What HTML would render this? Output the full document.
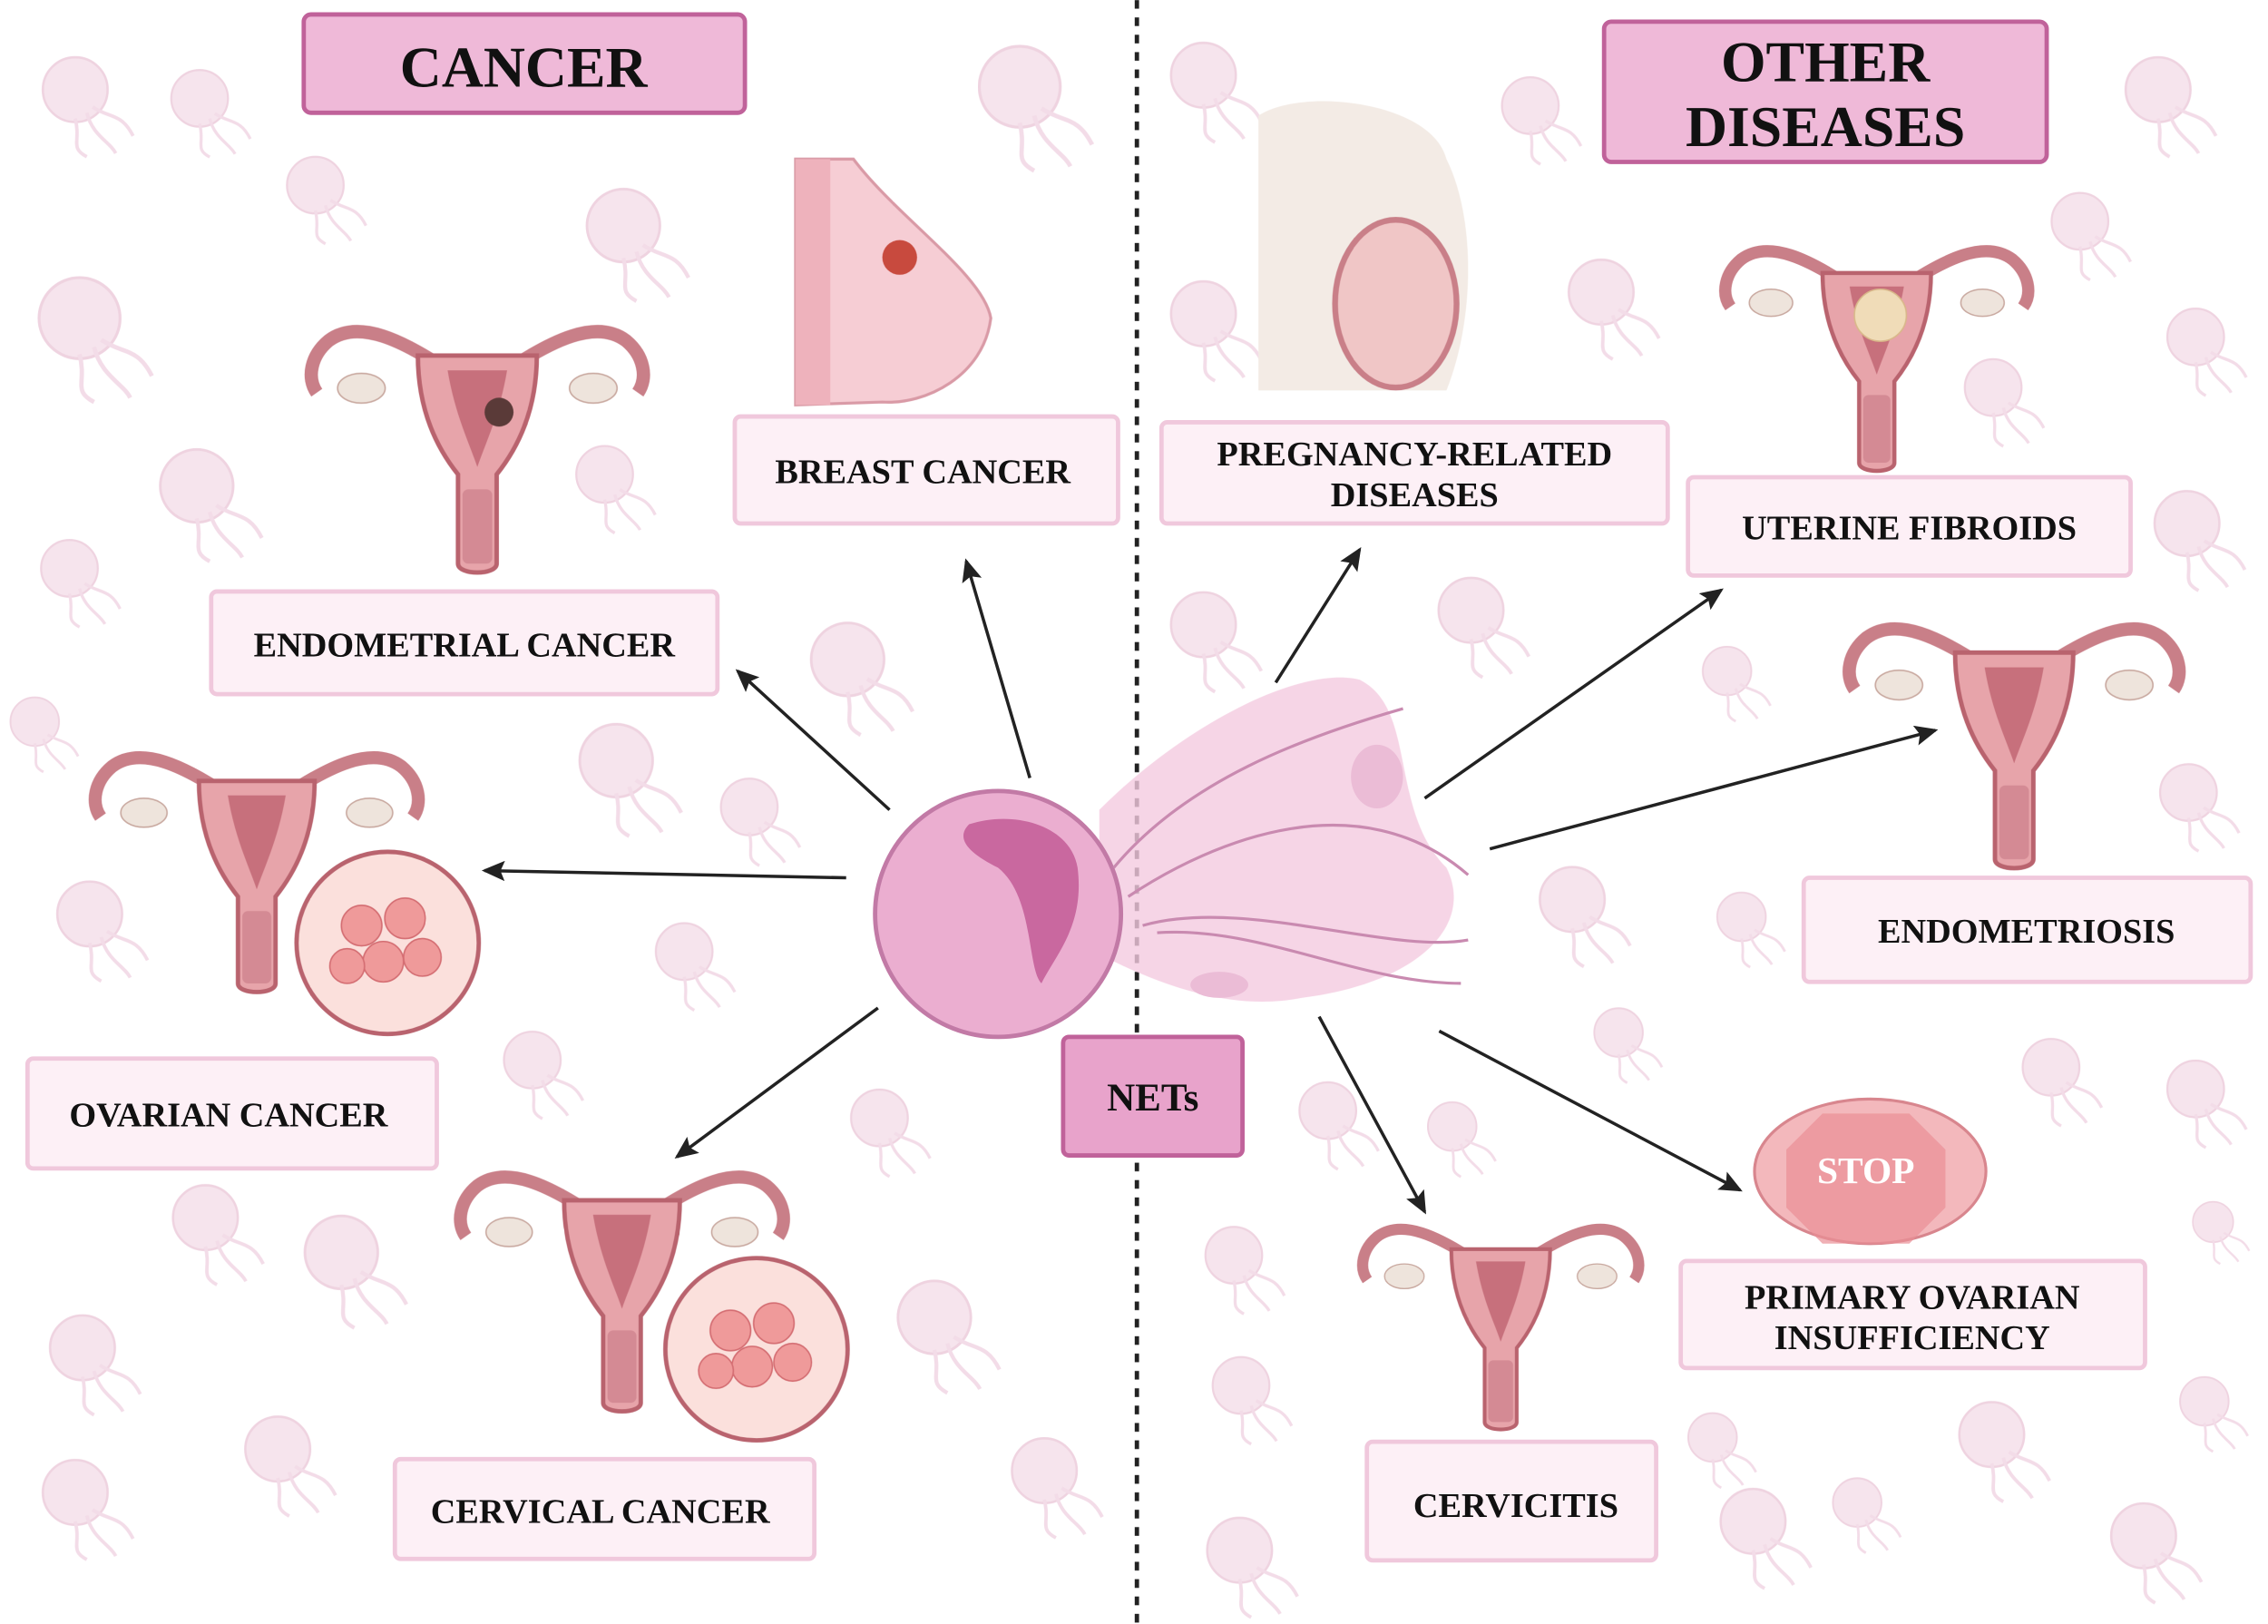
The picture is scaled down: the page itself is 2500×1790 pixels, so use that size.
<!DOCTYPE html>
<html><head><meta charset="utf-8"><style>
html,body{margin:0;padding:0;background:#fff;width:2500px;height:1790px;overflow:hidden}
svg{display:block}
text{font-family:"Liberation Serif",serif;font-weight:bold;fill:#111;text-anchor:middle}
</style></head><body>
<svg width="2500" height="1790" viewBox="0 0 1568 1123" preserveAspectRatio="none" xmlns="http://www.w3.org/2000/svg">
<defs>
<symbol id="ut" viewBox="0 0 240 180">
<path d="M100 40 C70 20 40 5 20 20 C8 30 5 45 12 55" fill="none" stroke="#c97f88" stroke-width="9"/>
<path d="M140 40 C170 20 200 5 220 20 C232 30 235 45 228 55" fill="none" stroke="#c97f88" stroke-width="9"/>
<ellipse cx="42" cy="52" rx="16" ry="10" fill="#eee4dc" stroke="#c9a9a0"/>
<ellipse cx="198" cy="52" rx="16" ry="10" fill="#eee4dc" stroke="#c9a9a0"/>
<path d="M80 30 L160 30 C160 70 145 95 133 110 L133 170 C133 178 107 178 107 170 L107 110 C95 95 80 70 80 30Z" fill="#e7a4aa" stroke="#b9636e" stroke-width="3"/>
<path d="M100 40 L140 40 C135 70 125 90 120 105 C115 90 105 70 100 40Z" fill="#c7707c"/>
<rect x="110" y="120" width="20" height="50" rx="4" fill="#d48a94"/>
</symbol>
<marker id="ah" markerWidth="16" markerHeight="14" refX="14" refY="7" orient="auto" markerUnits="userSpaceOnUse" viewBox="0 0 16 14"><path d="M0 0 L16 7 L0 14 L3 7Z" fill="#222"/></marker>
<symbol id="bg" viewBox="0 0 100 100">
<circle cx="40" cy="40" r="28" fill="#f5e0ea" stroke="#eccbdb" stroke-width="2"/>
<path d="M55 55 C70 65 80 60 90 80 M50 60 C55 80 70 85 75 95 M40 65 C45 85 35 90 50 98" stroke="#f1d6e4" stroke-width="3" fill="none"/>
</symbol>
</defs>
<g opacity="0.85">
<use href="#bg" x="20" y="30" width="80" height="80"/><use href="#bg" x="110" y="40" width="70" height="70"/>
<use href="#bg" x="10" y="180" width="110" height="100"/><use href="#bg" x="190" y="100" width="70" height="70"/>
<use href="#bg" x="390" y="120" width="100" height="90"/><use href="#bg" x="100" y="300" width="90" height="90"/>
<use href="#bg" x="390" y="300" width="70" height="70"/><use href="#bg" x="20" y="360" width="70" height="80"/>
<use href="#bg" x="550" y="420" width="90" height="90"/><use href="#bg" x="0" y="470" width="60" height="70"/>
<use href="#bg" x="390" y="490" width="90" height="90"/><use href="#bg" x="490" y="530" width="70" height="70"/>
<use href="#bg" x="30" y="600" width="80" height="80"/><use href="#bg" x="440" y="630" width="80" height="70"/>
<use href="#bg" x="340" y="700" width="70" height="80"/><use href="#bg" x="580" y="740" width="70" height="80"/>
<use href="#bg" x="110" y="810" width="80" height="80"/><use href="#bg" x="200" y="830" width="90" height="90"/>
<use href="#bg" x="20" y="900" width="90" height="80"/><use href="#bg" x="150" y="970" width="100" height="80"/>
<use href="#bg" x="20" y="1000" width="80" height="80"/><use href="#bg" x="610" y="870" width="90" height="100"/>
<use href="#bg" x="690" y="980" width="80" height="90"/><use href="#bg" x="660" y="20" width="110" height="100"/>
<use href="#bg" x="800" y="20" width="80" height="80"/><use href="#bg" x="1030" y="40" width="70" height="80"/>
<use href="#bg" x="800" y="180" width="80" height="90"/><use href="#bg" x="1070" y="170" width="90" height="80"/>
<use href="#bg" x="1460" y="30" width="80" height="80"/><use href="#bg" x="1410" y="120" width="70" height="80"/>
<use href="#bg" x="1490" y="200" width="70" height="80"/><use href="#bg" x="1350" y="240" width="70" height="70"/>
<use href="#bg" x="1480" y="330" width="80" height="80"/><use href="#bg" x="800" y="400" width="80" height="80"/>
<use href="#bg" x="980" y="390" width="90" height="80"/><use href="#bg" x="1170" y="430" width="60" height="80"/>
<use href="#bg" x="1480" y="520" width="80" height="70"/><use href="#bg" x="1050" y="590" width="90" height="80"/>
<use href="#bg" x="1180" y="600" width="60" height="80"/><use href="#bg" x="1090" y="690" width="70" height="60"/>
<use href="#bg" x="1390" y="700" width="70" height="90"/><use href="#bg" x="1490" y="720" width="70" height="80"/>
<use href="#bg" x="890" y="740" width="70" height="70"/><use href="#bg" x="980" y="750" width="60" height="70"/>
<use href="#bg" x="820" y="840" width="80" height="70"/><use href="#bg" x="1510" y="820" width="50" height="60"/>
<use href="#bg" x="830" y="920" width="70" height="90"/><use href="#bg" x="1160" y="960" width="60" height="80"/>
<use href="#bg" x="1340" y="960" width="90" height="80"/><use href="#bg" x="1500" y="930" width="60" height="90"/>
<use href="#bg" x="1180" y="1020" width="80" height="80"/><use href="#bg" x="1440" y="1030" width="100" height="80"/>
<use href="#bg" x="820" y="1040" width="90" height="80"/><use href="#bg" x="1260" y="1010" width="60" height="70"/>
</g>
<line x1="786" y1="0" x2="786" y2="1123" stroke="#222" stroke-width="3" stroke-dasharray="6,6"/>
<use href="#ut" x="205" y="215" width="250" height="185"/>
<circle cx="345" cy="285" r="10" fill="#5a3a38"/>
<use href="#ut" x="55" y="510" width="245" height="180"/>
<circle cx="268" cy="652" r="63" fill="#fbe0dc" stroke="#b9636e" stroke-width="3"/>
<g fill="#ef9a9a" stroke="#d46d72"><circle cx="250" cy="640" r="14"/><circle cx="280" cy="635" r="14"/><circle cx="265" cy="665" r="14"/><circle cx="292" cy="662" r="13"/><circle cx="240" cy="668" r="12"/></g>
<use href="#ut" x="310" y="800" width="240" height="180"/>
<circle cx="523" cy="933" r="63" fill="#fbe0dc" stroke="#b9636e" stroke-width="3"/>
<g fill="#ef9a9a" stroke="#d46d72"><circle cx="505" cy="920" r="14"/><circle cx="535" cy="915" r="14"/><circle cx="520" cy="945" r="14"/><circle cx="548" cy="942" r="13"/><circle cx="495" cy="948" r="12"/></g>
<path d="M550 110 L590 110 C620 150 680 190 685 220 C680 260 640 280 610 278 L550 280Z" fill="#f6cdd4" stroke="#d99aa6" stroke-width="2"/>
<rect x="550" y="110" width="24" height="170" fill="#eeb2bc"/>
<circle cx="622" cy="178" r="12" fill="#c84a3e"/>
<path d="M870 80 C900 60 990 70 1000 110 C1020 150 1020 220 1000 270 L870 270Z" fill="#f3ebe5"/>
<ellipse cx="965" cy="210" rx="42" ry="58" fill="#f0c6c6" stroke="#c97f88" stroke-width="4"/>
<use href="#ut" x="1185" y="160" width="225" height="170"/>
<circle cx="1300" cy="218" r="18" fill="#f0dcb8" stroke="#d9b88a"/>
<use href="#ut" x="1270" y="420" width="245" height="185"/>
<use href="#ut" x="935" y="835" width="205" height="160"/>
<ellipse cx="1293" cy="810" rx="80" ry="50" fill="#f3b8bc" stroke="#d8868e" stroke-width="2"/>
<polygon points="1260,770 1320,770 1345,795 1345,835 1320,860 1260,860 1235,835 1235,795" fill="#e98e95" opacity="0.7"/>
<text x="1290" y="818" font-size="26" style="fill:#fff">STOP</text>
<path d="M760 560 C820 500 900 460 940 470 C980 490 960 560 1000 600 C1020 640 980 680 900 690 C850 700 800 680 760 660Z" fill="#f4cbe0" opacity="0.8"/>
<circle cx="690" cy="632" r="85" fill="#ebaed0" stroke="#c27aa6" stroke-width="3"/>
<path d="M670 570 C700 560 740 570 745 600 C750 640 730 660 720 680 C710 670 715 620 690 600 C670 590 660 580 670 570Z" fill="#c9689f"/>
<ellipse cx="952" cy="537" rx="18" ry="22" fill="#ebbcd6"/>
<ellipse cx="843" cy="681" rx="20" ry="9" fill="#ebbcd6"/>
<g fill="none" stroke="#c98ab0" stroke-width="2"><path d="M770 600 C820 540 900 510 970 490"/><path d="M780 620 C840 580 940 540 1015 605"/><path d="M790 640 C860 620 960 660 1015 650"/><path d="M800 645 C870 640 940 680 1010 680"/></g>
<g stroke="#222" stroke-width="2.2" marker-end="url(#ah)" fill="none">
<line x1="615" y1="560" x2="510" y2="464"/><line x1="712" y1="538" x2="668" y2="388"/>
<line x1="585" y1="607" x2="335" y2="602"/><line x1="607" y1="697" x2="468" y2="800"/>
<line x1="882" y1="472" x2="940" y2="380"/><line x1="985" y1="552" x2="1190" y2="408"/>
<line x1="1030" y1="587" x2="1338" y2="505"/><line x1="912" y1="703" x2="985" y2="838"/>
<line x1="995" y1="713" x2="1203" y2="823"/>
</g>
<rect x="210" y="10" width="305" height="68" rx="5" fill="#efb9d8" stroke="#c0629a" stroke-width="3"/>
<text x="362" y="60" font-size="40">CANCER</text>
<rect x="1109" y="15" width="306" height="97" rx="5" fill="#efb9d8" stroke="#c0629a" stroke-width="3"/>
<text x="1262" y="56" font-size="40">OTHER</text><text x="1262" y="101" font-size="40">DISEASES</text>
<rect x="735" y="717" width="124" height="82" rx="4" fill="#e8a3cb" stroke="#c0629a" stroke-width="3"/>
<text x="797" y="768" font-size="27">NETs</text>
<g fill="#fdf0f6" stroke="#f0c8dc" stroke-width="3">
<rect x="508" y="288" width="265" height="74" rx="4"/><rect x="146" y="409" width="350" height="71" rx="4"/>
<rect x="19" y="732" width="283" height="76" rx="4"/><rect x="273" y="1009" width="290" height="69" rx="4"/>
<rect x="803" y="292" width="350" height="70" rx="4"/><rect x="1167" y="330" width="306" height="68" rx="4"/>
<rect x="1247" y="607" width="309" height="72" rx="4"/><rect x="1162" y="872" width="321" height="74" rx="4"/>
<rect x="945" y="997" width="200" height="82" rx="4"/>
</g>
<g font-size="24">
<text x="638" y="334">BREAST CANCER</text>
<text x="321" y="454">ENDOMETRIAL CANCER</text>
<text x="158" y="779">OVARIAN CANCER</text>
<text x="415" y="1053">CERVICAL CANCER</text>
<text x="978" y="322">PREGNANCY-RELATED</text><text x="978" y="350">DISEASES</text>
<text x="1320" y="373">UTERINE FIBROIDS</text>
<text x="1401" y="652">ENDOMETRIOSIS</text>
<text x="1322" y="905">PRIMARY OVARIAN</text><text x="1322" y="933">INSUFFICIENCY</text>
<text x="1048" y="1049">CERVICITIS</text>
</g>
</svg>
</body></html>
